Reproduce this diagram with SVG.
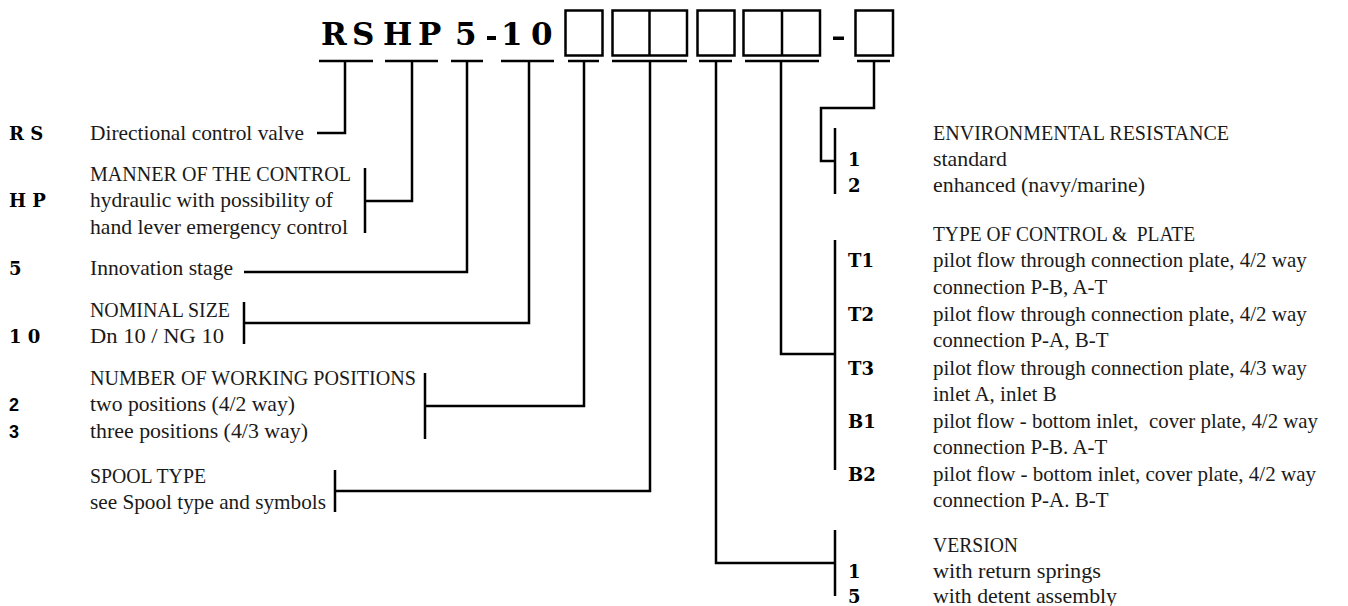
<svg xmlns="http://www.w3.org/2000/svg" width="1348" height="606" viewBox="0 0 1348 606">
<style>
.ln{stroke:#000;stroke-width:2.5;fill:none;stroke-linecap:butt}
.bx{stroke:#000;stroke-width:2.5;fill:#fff}
.hd{font-family:"DejaVu Serif","Liberation Serif",serif;font-weight:bold;font-size:31px;fill:#000}
.k{font-family:"DejaVu Serif","Liberation Serif",serif;font-weight:bold;font-size:18px;fill:#000}
.ks{font-family:"Liberation Sans",Arial,sans-serif;font-weight:bold;font-size:18px;fill:#000}
.t{font-family:"Liberation Serif","Times New Roman",serif;font-size:21px;fill:#1a1a1a}
.pre{white-space:pre}
</style>
<rect width="1348" height="606" fill="#fff"/>
<g id="header">
<text class="hd" x="321" y="45">R</text>
<text class="hd" x="352" y="45">S</text>
<text class="hd" x="383" y="45">H</text>
<text class="hd" x="418" y="45">P</text>
<text class="hd" x="455" y="45">5</text>
<rect x="487" y="36" width="9" height="4" fill="#000"/>
<text class="hd" x="501" y="45">1</text>
<text class="hd" x="531" y="45">0</text>
<rect class="bx" x="565.5" y="10.5" width="37" height="45"/>
<rect class="bx" x="612.5" y="10.5" width="74.5" height="45"/>
<line class="ln" x1="649.5" y1="10.5" x2="649.5" y2="55.5"/>
<rect class="bx" x="697.5" y="10.5" width="37" height="45"/>
<rect class="bx" x="743.5" y="10.5" width="76.5" height="45"/>
<line class="ln" x1="782" y1="10.5" x2="782" y2="55.5"/>
<rect x="833" y="36.5" width="11" height="3.5" fill="#000"/>
<rect class="bx" x="855.5" y="10.5" width="37.5" height="45"/>
</g>
<g id="connectors">
<path class="ln" d="M319 61H373M385 61H438M451 61H483M501 61H554M568 61H599M612 61H687M699 61H732M745 61H819M857 61H890"/>
<path class="ln" d="M345 61V133H317"/>
<path class="ln" d="M412 61V201H365M365 168V233"/>
<path class="ln" d="M467 61V272H244"/>
<path class="ln" d="M529 61V323H244M244 302V344"/>
<path class="ln" d="M584 61V406H425M425 373V439"/>
<path class="ln" d="M650 61V491H335M335 470V512"/>
<path class="ln" d="M874 61V108H821V161H835M835 128V194"/>
<path class="ln" d="M781 61V354H835M835 240V470"/>
<path class="ln" d="M716 61V563H835M835 530V596"/>
</g>
<g id="rs">
<text class="k" x="9" y="140">R S</text>
<text class="t" x="90" y="140" textLength="214" lengthAdjust="spacingAndGlyphs">Directional control valve</text>
</g>
<g id="hp">
<text class="t" x="90" y="181" textLength="261" lengthAdjust="spacingAndGlyphs">MANNER OF THE CONTROL</text>
<text class="k" x="9" y="207">H P</text>
<text class="t" x="90" y="207" textLength="243" lengthAdjust="spacingAndGlyphs">hydraulic with possibility of</text>
<text class="t" x="90" y="234" textLength="258" lengthAdjust="spacingAndGlyphs">hand lever emergency control</text>
</g>
<g id="stage">
<text class="k" x="9" y="275">5</text>
<text class="t" x="90" y="275" textLength="143" lengthAdjust="spacingAndGlyphs">Innovation stage</text>
</g>
<g id="size">
<text class="t" x="90" y="317" textLength="140" lengthAdjust="spacingAndGlyphs">NOMINAL SIZE</text>
<text class="k" x="9" y="343">1 0</text>
<text class="t" x="90" y="343" textLength="134" lengthAdjust="spacingAndGlyphs">Dn 10 / NG 10</text>
</g>
<g id="positions">
<text class="t" x="90" y="385" textLength="326" lengthAdjust="spacingAndGlyphs">NUMBER OF WORKING POSITIONS</text>
<text class="ks" x="9" y="411">2</text>
<text class="t" x="90" y="411" textLength="205" lengthAdjust="spacingAndGlyphs">two positions (4/2 way)</text>
<text class="ks" x="9" y="438">3</text>
<text class="t" x="90" y="438" textLength="218" lengthAdjust="spacingAndGlyphs">three positions (4/3 way)</text>
</g>
<g id="spool">
<text class="t" x="90" y="483" textLength="116" lengthAdjust="spacingAndGlyphs">SPOOL TYPE</text>
<text class="t" x="90" y="509" textLength="236" lengthAdjust="spacingAndGlyphs">see Spool type and symbols</text>
</g>
<g id="environment">
<text class="t" x="933" y="140" textLength="296" lengthAdjust="spacingAndGlyphs">ENVIRONMENTAL RESISTANCE</text>
<text class="k" x="848" y="166">1</text>
<text class="t" x="933" y="166" textLength="74" lengthAdjust="spacingAndGlyphs">standard</text>
<text class="k" x="848" y="192">2</text>
<text class="t" x="933" y="192" textLength="212" lengthAdjust="spacingAndGlyphs">enhanced (navy/marine)</text>
</g>
<g id="type">
<text class="t pre" x="933" y="241" textLength="262" lengthAdjust="spacingAndGlyphs">TYPE OF CONTROL &amp;  PLATE</text>
<text class="k" x="848" y="267">T1</text>
<text class="t" x="933" y="267">pilot flow through connection plate, 4/2 way</text>
<text class="t" x="933" y="294">connection P-B, A-T</text>
<text class="k" x="848" y="321">T2</text>
<text class="t" x="933" y="321">pilot flow through connection plate, 4/2 way</text>
<text class="t" x="933" y="347">connection P-A, B-T</text>
<text class="k" x="848" y="375">T3</text>
<text class="t" x="933" y="375">pilot flow through connection plate, 4/3 way</text>
<text class="t" x="933" y="401">inlet A, inlet B</text>
<text class="k" x="848" y="428">B1</text>
<text class="t pre" x="933" y="428" textLength="385" lengthAdjust="spacingAndGlyphs">pilot flow - bottom inlet,  cover plate, 4/2 way</text>
<text class="t" x="933" y="454">connection P-B. A-T</text>
<text class="k" x="848" y="481">B2</text>
<text class="t" x="933" y="481" textLength="383" lengthAdjust="spacingAndGlyphs">pilot flow - bottom inlet, cover plate, 4/2 way</text>
<text class="t" x="933" y="507">connection P-A. B-T</text>
</g>
<g id="version">
<text class="t" x="933" y="552" textLength="85" lengthAdjust="spacingAndGlyphs">VERSION</text>
<text class="k" x="848" y="578">1</text>
<text class="t" x="933" y="578" textLength="168" lengthAdjust="spacingAndGlyphs">with return springs</text>
<text class="k" x="848" y="603">5</text>
<text class="t" x="933" y="603" textLength="184" lengthAdjust="spacingAndGlyphs">with detent assembly</text>
</g>
</svg>
